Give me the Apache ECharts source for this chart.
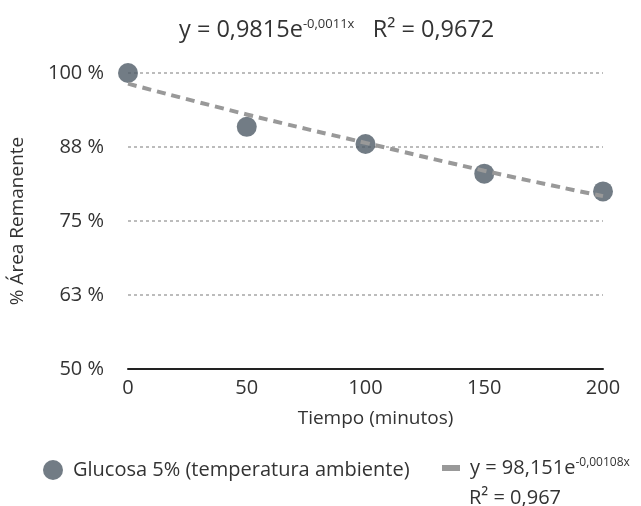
<!DOCTYPE html>
<html><head><meta charset="utf-8">
<script src="https://cdn.jsdelivr.net/npm/echarts@6/dist/echarts.min.js"></script>
<style>html,body{margin:0;padding:0;background:#fff}#c{width:641px;height:506px}</style>
</head><body><div id="c"></div>
<script>
var times = [0, 50, 100, 150, 200];
var area = [100, 90.9, 88.0, 83.0, 80.0];
var trend = [98.2, 93.0, 88.2, 83.5, 79.2];
var yTicks = [50, 62.5, 75, 87.5, 100];
var seriesName = 'Glucosa 5% (temperatura ambiente)';
var trendName = 'Tendencia';

var font = '"Open Sans", sans-serif';
var txt = '#333333';
var chart = echarts.init(document.getElementById('c'), null, {renderer: 'canvas'});
chart.setOption({
  animation: false,
  backgroundColor: '#ffffff',
  textStyle: {fontFamily: font},
  title: {
    text: 'y = 0,9815e{sup|-0,0011x}   R² = 0,9672',
    left: 174, top: 13,
    textStyle: {
      fontFamily: font, fontSize: 23.5, fontWeight: 'normal', color: txt,
      rich: {sup: {fontSize: 13, verticalAlign: 'top', color: txt, fontFamily: font, padding: [0, 0, 12, 0]}}
    }
  },
  grid: {left: 128, right: 38, top: 73, bottom: 137},
  xAxis: {
    type: 'value', min: 0, max: 200, interval: 50,
    name: 'Tiempo (minutos)', nameLocation: 'middle', nameGap: 40,
    nameTextStyle: {fontFamily: font, fontSize: 19, color: txt, padding: [0, 0, 0, 20]},
    axisLine: {show: true, onZero: false, lineStyle: {color: '#222', width: 2}},
    axisTick: {show: false},
    axisLabel: {fontFamily: font, fontSize: 20, color: txt, margin: 9},
    splitLine: {show: false}
  },
  yAxis: {
    type: 'value', min: 50, max: 100, interval: 12.5,
    name: '% Área Remanente', nameLocation: 'middle', nameGap: 101, nameRotate: 90,
    nameTextStyle: {fontFamily: font, fontSize: 19, color: txt},
    axisLine: {show: false}, axisTick: {show: false},
    axisLabel: {fontFamily: font, fontSize: 20, color: txt, margin: 24,
      formatter: function (v) { return Math.round(v) + ' %'; }},
    splitLine: {show: true, lineStyle: {color: '#a6a6a6', type: [3, 3], width: 1.5}}
  },
  legend: [{
    data: [{name: seriesName, icon: 'circle'}],
    left: 38, top: 455, itemWidth: 30, itemHeight: 20, symbolKeepAspect: true,
    textStyle: {fontFamily: font, fontSize: 20, color: txt}
  }, {
    data: [{name: trendName, icon: 'rect'}],
    left: 437, top: 452, itemWidth: 18, itemHeight: 6,
    formatter: function () { return 'y = 98,151e{sup|-0,00108x}'; },
    textStyle: {fontFamily: font, fontSize: 20, color: txt, padding: [0, 0, 0, 5],
      rich: {sup: {fontSize: 12, verticalAlign: 'top', color: txt, fontFamily: font, padding: [0, 0, 10, 0]}}}
  }],
  graphic: [{
    type: 'text', left: 469, top: 488,
    style: {text: 'R² = 0,967', fontFamily: font, fontSize: 20, fill: txt}
  }],
  series: [{
    name: seriesName, type: 'scatter', symbol: 'circle', symbolSize: 20,
    itemStyle: {color: '#4f5b66'}, z: 3,
    data: times.map(function (t, i) { return [t, area[i]]; })
  }, {
    name: trendName, type: 'line', smooth: true, showSymbol: false, symbol: 'none',
    itemStyle: {color: '#999999'},
    lineStyle: {color: '#999999', width: 4, type: [9, 6]}, z: 4,
    data: times.map(function (t, i) { return [t, trend[i]]; })
  }]
});
</script></body></html>
